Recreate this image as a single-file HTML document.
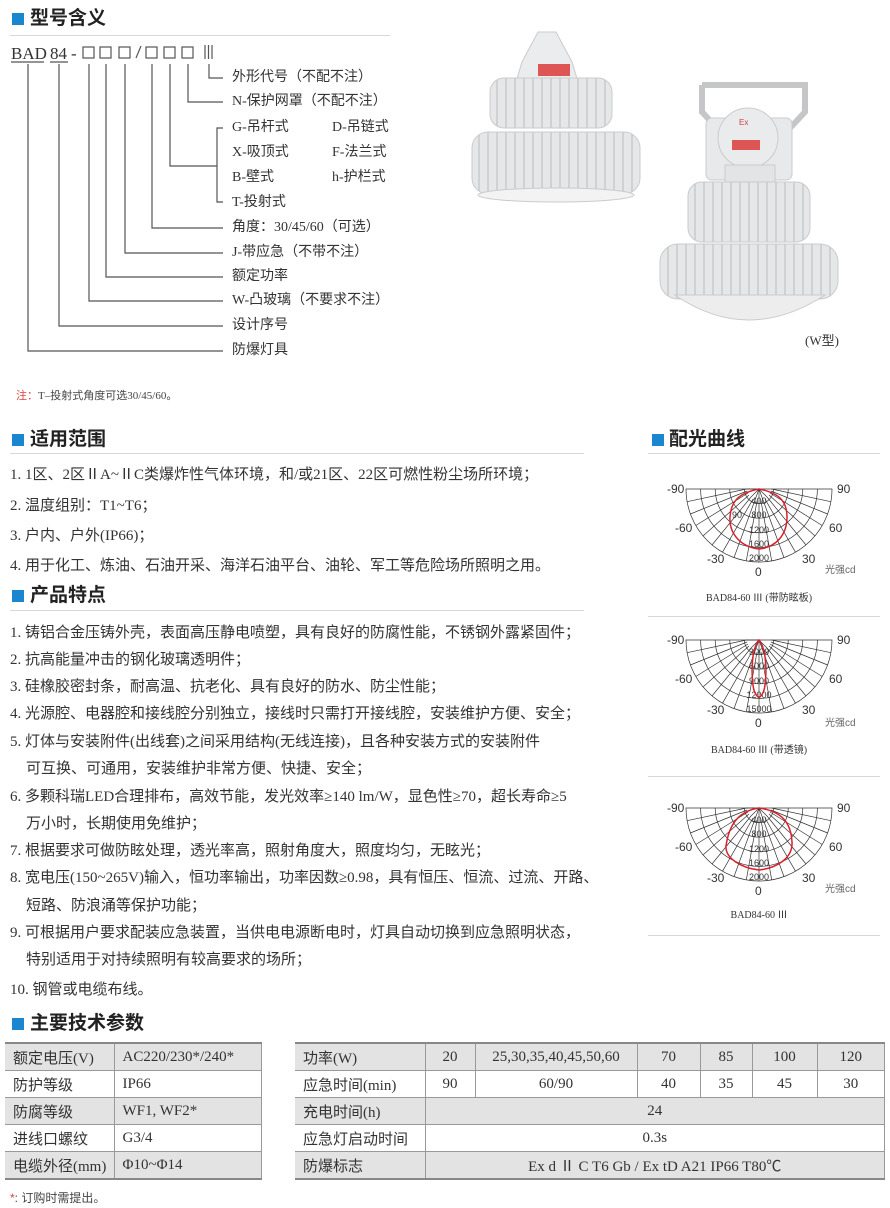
<!DOCTYPE html>
<html><head><meta charset="utf-8">
<style>
body{margin:0;width:890px;height:1208px;background:#fff;position:relative;overflow:hidden;font-family:"Liberation Serif","Noto Sans CJK SC",serif;color:#333}
.a{position:absolute;white-space:nowrap}
.h{position:absolute;font-family:"Liberation Sans","Noto Sans CJK SC",sans-serif;font-weight:bold;font-size:19px;color:#222;line-height:22px}
.sq{position:absolute;width:12px;height:12px;background:#1a86d0}
.ln{position:absolute;height:1px;background:#d8d8d8}
.t{position:absolute;font-size:15px;line-height:18px;white-space:nowrap;font-family:"Liberation Serif","Noto Sans CJK SC",serif;color:#333}
.m{position:absolute;font-size:14px;line-height:16px;white-space:nowrap;color:#333}
table{border-collapse:collapse;position:absolute;font-size:15px;font-family:"Liberation Serif","Noto Sans CJK SC",serif;color:#333}
td{border:1px solid #999;border-left:none;height:26px;padding:0 0 0 8px}
td:first-child{border-left:none}
tr.g td{background:#e3e3e3}
table tr:first-child td{border-top:2px solid #888}
table tr:last-child td{border-bottom:2px solid #888}
.c td{text-align:center;padding:0}
.c td:first-child{text-align:left;padding-left:8px}
</style></head><body>

<div class="sq" style="left:12px;top:13px"></div>
<div class="h" style="left:30px;top:8px">型号含义</div>
<div class="ln" style="left:10px;top:35px;width:380px"></div>

<div class="a" style="left:11px;top:44px;font-size:17px">BAD</div>
<div class="a" style="left:50px;top:44px;font-size:17px">84</div>
<div class="a" style="left:71px;top:44px;font-size:17px">-</div>
<svg class="a" style="left:0;top:0" width="460" height="370">
 <g fill="none" stroke="#555" stroke-width="1.2">
  <line x1="11" y1="62" x2="44" y2="62"/><line x1="50" y1="62" x2="68" y2="62"/>
  <rect x="83" y="47" width="11" height="11"/><rect x="100" y="47" width="11" height="11"/>
  <rect x="119" y="47" width="11" height="11"/>
  <line x1="136" y1="58" x2="141" y2="46"/>
  <rect x="146" y="47" width="11" height="11"/><rect x="164" y="47" width="11" height="11"/><rect x="182" y="47" width="11" height="11"/>
  <line x1="205" y1="45" x2="205" y2="59"/><line x1="208.5" y1="45" x2="208.5" y2="59"/><line x1="212" y1="45" x2="212" y2="59"/>
  <polyline points="209,64 209,78 223,78"/>
  <polyline points="188,64 188,102 223,102"/>
  <polyline points="170,64 170,166 217,166"/>
  <polyline points="223,128 217,128 217,202 223,202"/>
  <polyline points="152,64 152,228 223,228"/>
  <polyline points="125,64 125,253 223,253"/>
  <polyline points="106,64 106,277 223,277"/>
  <polyline points="89,64 89,301 223,301"/>
  <polyline points="59,64 59,326 223,326"/>
  <polyline points="28,64 28,351 223,351"/>
 </g>
</svg>
<div class="m" style="left:232px;top:70px">外形代号（不配不注）</div>
<div class="m" style="left:232px;top:94px">N-保护网罩（不配不注）</div>
<div class="m" style="left:232px;top:120px">G-吊杆式</div><div class="m" style="left:332px;top:120px">D-吊链式</div>
<div class="m" style="left:232px;top:145px">X-吸顶式</div><div class="m" style="left:332px;top:145px">F-法兰式</div>
<div class="m" style="left:232px;top:170px">B-壁式</div><div class="m" style="left:332px;top:170px">h-护栏式</div>
<div class="m" style="left:232px;top:195px">T-投射式</div>
<div class="m" style="left:232px;top:220px">角度：30/45/60（可选）</div>
<div class="m" style="left:232px;top:245px">J-带应急（不带不注）</div>
<div class="m" style="left:232px;top:269px">额定功率</div>
<div class="m" style="left:232px;top:293px">W-凸玻璃（不要求不注）</div>
<div class="m" style="left:232px;top:318px">设计序号</div>
<div class="m" style="left:232px;top:343px">防爆灯具</div>
<div class="a" style="left:16px;top:387px;font-size:11px;color:#444"><span style="color:#d44">注：</span>T–投射式角度可选30/45/60。</div>

<!-- lamps -->
<svg class="a" style="left:460px;top:0" width="430" height="360">
 <defs>
  <pattern id="fin" width="9" height="10" patternUnits="userSpaceOnUse"><rect width="9" height="10" fill="#e6e7e8"/><rect width="2" height="10" fill="#cfd1d3"/></pattern>
 </defs>
 <g stroke="#c9cbcd" stroke-width="1">
  <path d="M78 32 L96 32 L112 62 L118 82 L56 82 L62 62 Z" fill="#ebeced"/>
  <rect x="30" y="78" width="122" height="50" rx="14" fill="url(#fin)"/>
  <rect x="12" y="132" width="168" height="62" rx="16" fill="url(#fin)"/>
  <ellipse cx="96" cy="195" rx="78" ry="7" fill="#f3f3f3"/>
  <path d="M242 85 L345 85 L345 112 L330 128 M242 85 L242 112 L257 128" fill="none" stroke="#c4c6c8" stroke-width="6"/>
  <rect x="246" y="118" width="86" height="62" rx="6" fill="#e8e9ea"/>
  <circle cx="288" cy="138" r="30" fill="#eaebec"/>
  <rect x="265" y="165" width="50" height="22" fill="#e3e4e5"/>
  <rect x="228" y="182" width="122" height="60" rx="14" fill="url(#fin)"/>
  <rect x="200" y="244" width="178" height="55" rx="18" fill="url(#fin)"/>
  <path d="M215 295 Q288 345 365 295 Z" fill="#ededed"/>
 </g>
 <g fill="#d55"><rect x="78" y="64" width="32" height="12"/><rect x="272" y="140" width="28" height="10"/></g>
 <text x="279" y="125" font-size="8" fill="#c44" font-family="Liberation Sans">Ex</text>
</svg>
<div class="a" style="left:805px;top:330px;font-size:13px">(W型)</div>

<div class="sq" style="left:12px;top:434px"></div>
<div class="h" style="left:30px;top:429px">适用范围</div>
<div class="ln" style="left:10px;top:453px;width:574px"></div>
<div class="t" style="left:10px;top:466px">1. 1区、2区ⅡA~ⅡC类爆炸性气体环境，和/或21区、22区可燃性粉尘场所环境；</div>
<div class="t" style="left:10px;top:497px">2. 温度组别：T1~T6；</div>
<div class="t" style="left:10px;top:527px">3. 户内、户外(IP66)；</div>
<div class="t" style="left:10px;top:557px">4. 用于化工、炼油、石油开采、海洋石油平台、油轮、军工等危险场所照明之用。</div>

<div class="sq" style="left:12px;top:590px"></div>
<div class="h" style="left:30px;top:585px">产品特点</div>
<div class="ln" style="left:10px;top:610px;width:574px"></div>
<div class="t" style="left:10px;top:624px">1. 铸铝合金压铸外壳，表面高压静电喷塑，具有良好的防腐性能，不锈钢外露紧固件；</div>
<div class="t" style="left:10px;top:651px">2. 抗高能量冲击的钢化玻璃透明件；</div>
<div class="t" style="left:10px;top:678px">3. 硅橡胶密封条，耐高温、抗老化、具有良好的防水、防尘性能；</div>
<div class="t" style="left:10px;top:705px">4. 光源腔、电器腔和接线腔分别独立，接线时只需打开接线腔，安装维护方便、安全；</div>
<div class="t" style="left:10px;top:733px">5. 灯体与安装附件(出线套)之间采用结构(无线连接)，且各种安装方式的安装附件</div>
<div class="t" style="left:26px;top:760px">可互换、可通用，安装维护非常方便、快捷、安全；</div>
<div class="t" style="left:10px;top:788px">6. 多颗科瑞LED合理排布，高效节能，发光效率≥140 lm/W，显色性≥70，超长寿命≥5</div>
<div class="t" style="left:26px;top:815px">万小时，长期使用免维护；</div>
<div class="t" style="left:10px;top:842px">7. 根据要求可做防眩处理，透光率高，照射角度大，照度均匀，无眩光；</div>
<div class="t" style="left:10px;top:869px">8. 宽电压(150~265V)输入，恒功率输出，功率因数≥0.98，具有恒压、恒流、过流、开路、</div>
<div class="t" style="left:26px;top:897px">短路、防浪涌等保护功能；</div>
<div class="t" style="left:10px;top:924px">9. 可根据用户要求配装应急装置，当供电电源断电时，灯具自动切换到应急照明状态，</div>
<div class="t" style="left:26px;top:951px">特别适用于对持续照明有较高要求的场所；</div>
<div class="t" style="left:10px;top:981px">10. 钢管或电缆布线。</div>

<div class="sq" style="left:652px;top:434px"></div>
<div class="h" style="left:669px;top:429px">配光曲线</div>
<div class="ln" style="left:648px;top:453px;width:232px"></div>
<div class="ln" style="left:648px;top:616px;width:232px"></div>
<div class="ln" style="left:648px;top:776px;width:232px"></div>
<div class="ln" style="left:648px;top:935px;width:232px"></div>

<svg class="a" style="left:640px;top:460px" width="250" height="480" font-family="Liberation Sans" font-size="12" fill="#333">
 <defs>
  <g id="grid" fill="none" stroke="#333" stroke-width="0.7">
   <path d="M-73 0 A73 73 0 0 0 73 0 Z"/>
   <path d="M-58.4 0 A58.4 58.4 0 0 0 58.4 0"/>
   <path d="M-43.8 0 A43.8 43.8 0 0 0 43.8 0"/>
   <path d="M-29.2 0 A29.2 29.2 0 0 0 29.2 0"/>
   <path d="M-14.6 0 A14.6 14.6 0 0 0 14.6 0"/>
   <path d="M-12.5 0 L-71.9 12.7 M-12 2 L-68.6 25 M-11 4 L-63.2 36.5 M-10 6 L-55.9 46.9 M-8 8 L-46.9 55.9 M-6 10 L-36.5 63.2 M-4 11 L-25 68.6 M-2 12 L-12.7 71.9 M0 0 L0 73 M2 12 L12.7 71.9 M4 11 L25 68.6 M6 10 L36.5 63.2 M8 8 L46.9 55.9 M10 6 L55.9 46.9 M11 4 L63.2 36.5 M12 2 L68.6 25 M12.5 0 L71.9 12.7"/>
   <path d="M0 0 L-12.5 0 M0 0 L-8 8 M0 0 L8 8 M0 0 L-4 11 M0 0 L4 11"/>
  </g>
 </defs>
 <g transform="translate(119,29)">
  <use href="#grid"/>
  <text x="-92" y="4">-90</text><text x="78" y="4">90</text>
  <text x="-84" y="43">-60</text><text x="70" y="43">60</text>
  <text x="-52" y="74">-30</text><text x="43" y="74">30</text>
  <text x="-4" y="87">0</text>
  <g font-size="9" text-anchor="middle"><text x="0" y="15">400</text><text x="0" y="29">800</text><text x="-22" y="29">90</text><text x="0" y="44">1200</text><text x="0" y="58">1600</text><text x="0" y="72">2000</text></g>
  <path d="M0 0 C20 4 28 12 28 28 C28 45 18 58 0 60 C-18 58 -30 45 -29 28 C-28 12 -20 4 0 0 Z" fill="none" stroke="#d9202b" stroke-width="1.5"/>
  <text x="66" y="84" font-size="10" fill="#666">光强cd</text>
  <text x="0" y="112" font-family="Liberation Serif,Noto Sans CJK SC" font-size="10" text-anchor="middle">BAD84-60 Ⅲ (带防眩板)</text>
 </g>
 <g transform="translate(119,180)">
  <use href="#grid"/>
  <text x="-92" y="4">-90</text><text x="78" y="4">90</text>
  <text x="-84" y="43">-60</text><text x="70" y="43">60</text>
  <text x="-52" y="74">-30</text><text x="43" y="74">30</text>
  <text x="-4" y="87">0</text>
  <g font-size="9" text-anchor="middle"><text x="0" y="15">3000</text><text x="0" y="29">6000</text><text x="0" y="44">9000</text><text x="0" y="58">12000</text><text x="0" y="72">15000</text></g>
  <path d="M0 0 C7 8 8 30 6 45 C5 53 2 57 0 57 C-2 57 -5 53 -6 45 C-8 30 -7 8 0 0 Z" fill="none" stroke="#d9202b" stroke-width="1.5"/>
  <text x="66" y="86" font-size="10" fill="#666">光强cd</text>
  <text x="0" y="113" font-family="Liberation Serif,Noto Sans CJK SC" font-size="10" text-anchor="middle">BAD84-60 Ⅲ (带透镜)</text>
 </g>
 <g transform="translate(119,348)">
  <use href="#grid"/>
  <text x="-92" y="4">-90</text><text x="78" y="4">90</text>
  <text x="-84" y="43">-60</text><text x="70" y="43">60</text>
  <text x="-52" y="74">-30</text><text x="43" y="74">30</text>
  <text x="-4" y="87">0</text>
  <g font-size="9" text-anchor="middle"><text x="0" y="15">400</text><text x="0" y="29">800</text><text x="0" y="44">1200</text><text x="0" y="58">1600</text><text x="0" y="72">2000</text></g>
  <path d="M0 0 C22 3 32 14 33 34 C34 50 18 60 0 62 C-18 60 -34 50 -33 38 C-30 16 -20 3 0 0 Z" fill="none" stroke="#d9202b" stroke-width="1.5"/>
  <text x="66" y="84" font-size="10" fill="#666">光强cd</text>
  <text x="0" y="110" font-family="Liberation Serif,Noto Sans CJK SC" font-size="10" text-anchor="middle">BAD84-60 Ⅲ</text>
 </g>
</svg>

<div class="sq" style="left:12px;top:1018px"></div>
<div class="h" style="left:30px;top:1013px">主要技术参数</div>

<table style="left:5px;top:1042px;width:257px">
 <colgroup><col style="width:109px"><col></colgroup>
 <tr class="g"><td>额定电压(V)</td><td style="border-left:1px solid #999">AC220/230*/240*</td></tr>
 <tr><td>防护等级</td><td style="border-left:1px solid #999">IP66</td></tr>
 <tr class="g"><td>防腐等级</td><td style="border-left:1px solid #999">WF1, WF2*</td></tr>
 <tr><td>进线口螺纹</td><td style="border-left:1px solid #999">G3/4</td></tr>
 <tr class="g"><td>电缆外径(mm)</td><td style="border-left:1px solid #999">Φ10~Φ14</td></tr>
</table>

<table class="c" style="left:295px;top:1042px;width:590px">
 <colgroup><col style="width:130px"><col style="width:50px"><col style="width:162px"><col style="width:63px"><col style="width:52px"><col style="width:65px"><col></colgroup>
 <tr class="g"><td>功率(W)</td><td style="border-left:1px solid #999">20</td><td style="border-left:1px solid #999">25,30,35,40,45,50,60</td><td style="border-left:1px solid #999">70</td><td style="border-left:1px solid #999">85</td><td style="border-left:1px solid #999">100</td><td style="border-left:1px solid #999">120</td></tr>
 <tr><td>应急时间(min)</td><td style="border-left:1px solid #999">90</td><td style="border-left:1px solid #999">60/90</td><td style="border-left:1px solid #999">40</td><td style="border-left:1px solid #999">35</td><td style="border-left:1px solid #999">45</td><td style="border-left:1px solid #999">30</td></tr>
 <tr class="g"><td>充电时间(h)</td><td colspan="6" style="border-left:1px solid #999">24</td></tr>
 <tr><td>应急灯启动时间</td><td colspan="6" style="border-left:1px solid #999">0.3s</td></tr>
 <tr class="g"><td>防爆标志</td><td colspan="6" style="border-left:1px solid #999">Ex d Ⅱ C T6 Gb / Ex tD A21 IP66 T80℃</td></tr>
</table>

<div class="a" style="left:10px;top:1189px;font-size:12px;color:#444;font-family:'Liberation Sans','Noto Sans CJK SC',sans-serif"><span style="color:#d44">*</span>: 订购时需提出。</div>
</body></html>
